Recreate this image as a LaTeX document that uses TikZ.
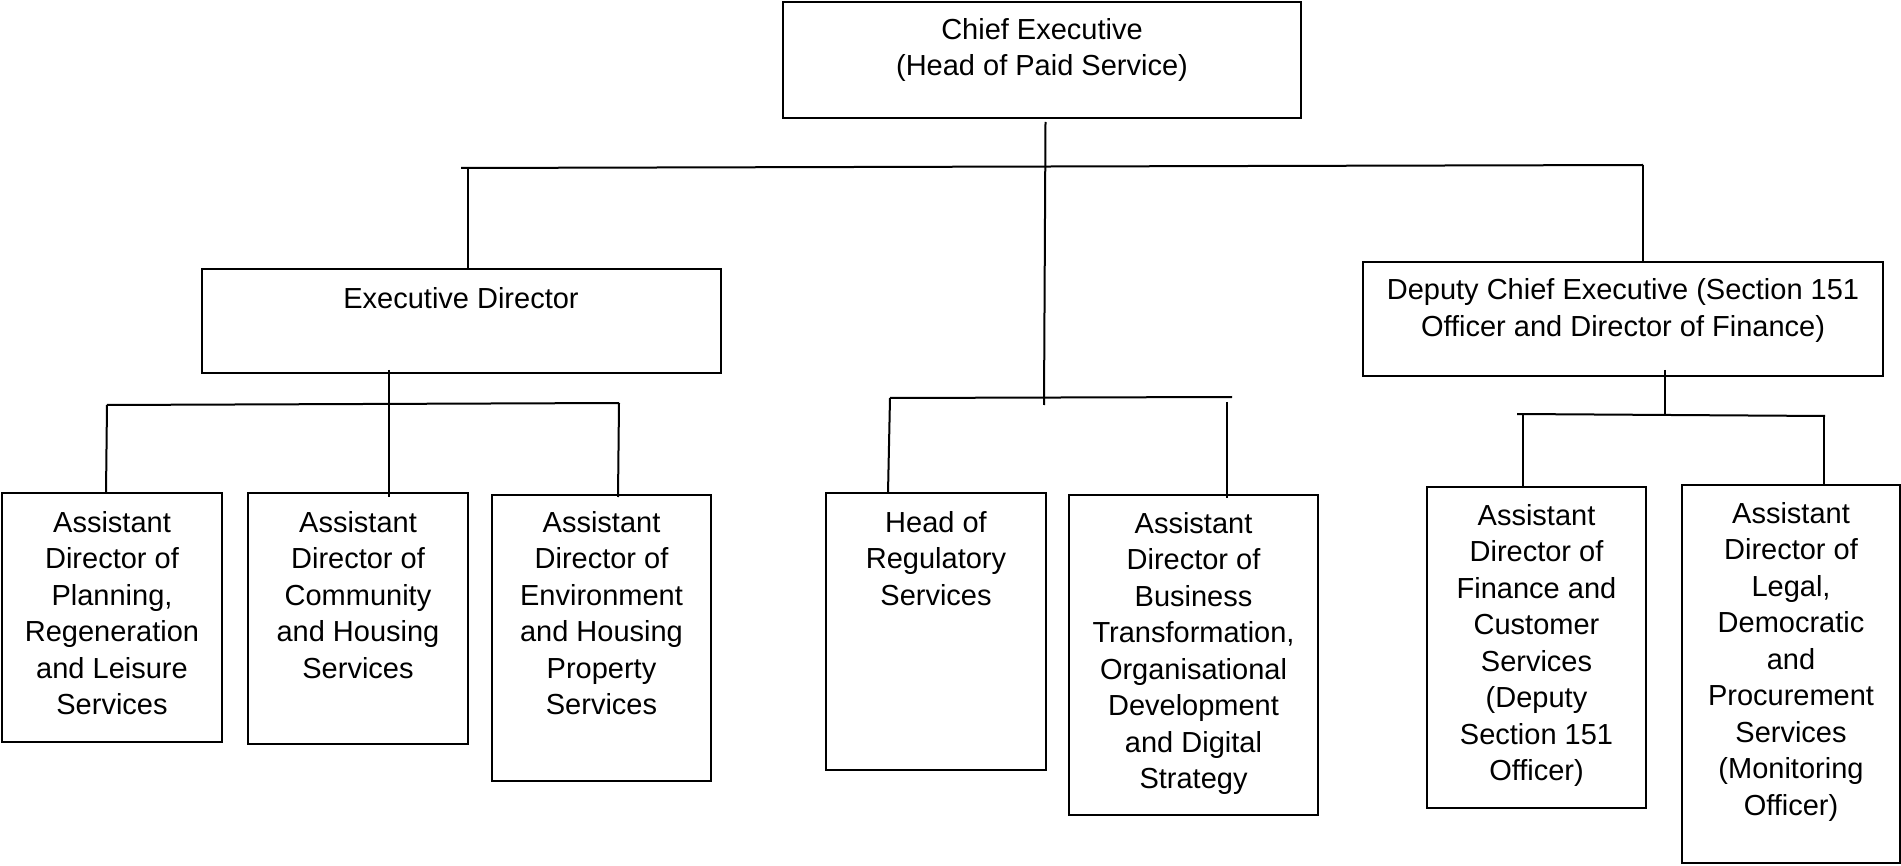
\documentclass[tikz,border=0pt]{standalone}
\usepackage{fontspec}
\setmainfont{Liberation Sans}
\usetikzlibrary{calc}
\newcommand\boxfont{\fontsize{29}{36.5}\selectfont}
\newcommand\fl{\rule{0pt}{26pt}}
\tikzset{
  box/.style={draw, line width=2pt, inner sep=0pt, outer sep=0pt},
  lbl/.style={anchor=north, align=center, inner sep=0pt, font=\boxfont},
  link/.style={line width=2pt},
}
\begin{document}
\begin{tikzpicture}[x=1pt, y=-1pt]
\useasboundingbox[fill=white] (0,0) rectangle (1901,866);

% boxes
\node[box, minimum width=518pt, minimum height=116pt] (ce)  at (1042,60) {};
\node[box, minimum width=519pt, minimum height=104pt] (ed)  at (461.5,321) {};
\node[box, minimum width=520pt, minimum height=114pt] (dce) at (1623,319) {};
\node[box, minimum width=220pt, minimum height=249pt] (a1)  at (112,617.5) {};
\node[box, minimum width=220pt, minimum height=251pt] (a2)  at (358,618.5) {};
\node[box, minimum width=219pt, minimum height=286pt] (a3)  at (601.5,638) {};
\node[box, minimum width=220pt, minimum height=277pt] (hr)  at (936,631.5) {};
\node[box, minimum width=249pt, minimum height=320pt] (bt)  at (1193.5,655) {};
\node[box, minimum width=219pt, minimum height=321pt] (f)   at (1536.5,647.5) {};
\node[box, minimum width=218pt, minimum height=378pt] (l)   at (1791,674) {};

% texts
\node[lbl] (ce-t)  at (1042,13) {\fl Chief Executive\\(Head of Paid Service)};
\node[lbl] (ed-t)  at (461,282) {\fl Executive Director};
\node[lbl] (dce-t) at (1623,273.5) {\fl Deputy Chief Executive (Section 151\\Officer and Director of Finance)};
\node[lbl] (a1-t)  at (112,506) {\fl Assistant\\Director of\\Planning,\\Regeneration\\and Leisure\\Services};
\node[lbl] (a2-t)  at (358,506) {\fl Assistant\\Director of\\Community\\and Housing\\Services};
\node[lbl] (a3-t)  at (601.5,506) {\fl Assistant\\Director of\\Environment\\and Housing\\Property\\Services};
\node[lbl] (hr-t)  at (936,506) {\fl Head of\\Regulatory\\Services};
\node[lbl] (bt-t)  at (1193.5,507) {\fl Assistant\\Director of\\Business\\Transformation,\\Organisational\\Development\\and Digital\\Strategy};
\node[lbl] (f-t)   at (1536.5,499) {\fl Assistant\\Director of\\Finance and\\Customer\\Services\\(Deputy\\Section 151\\Officer)};
\node[lbl] (l-t)   at (1791,497) {\fl Assistant\\Director of\\Legal,\\Democratic\\and\\Procurement\\Services\\(Monitoring\\Officer)};

% junction coordinates
\coordinate (tl) at (461,168);
\coordinate (tr) at (1643,165);
\coordinate (edj) at (468,168);
\coordinate (ctr) at (1044,405);
\coordinate (lb1) at (107,405);
\coordinate (lb2) at (619,403);
\coordinate (mb1) at (890,398);
\coordinate (mb2) at (1232,397);
\coordinate (mbd) at (1227,402);
\coordinate (rb1) at (1517,414);
\coordinate (rb2) at (1825,416);
\coordinate (rbj) at (1665,415);
\coordinate (rbf) at (1523,414);
\coordinate (rbl) at (1824,415);

% connectors
\draw[link] ([xshift=3.5pt,yshift=-4pt]ce.south) -- (ctr);
\draw[link] (tl) -- (tr);
\draw[link] (edj) -- ([xshift=6.5pt]ed.north);
\draw[link] (tr) -- ([xshift=20pt]dce.north);

\draw[link] ([xshift=-72.5pt,yshift=3pt]ed.south) -- ([xshift=31pt,yshift=-4pt]a2.north);
\draw[link] (lb1) -- (lb2);
\draw[link] (lb1) -- ([xshift=-6pt]a1.north);
\draw[link] (lb2) -- ([xshift=16.5pt,yshift=-2pt]a3.north);

\draw[link] (mb1) -- (mb2);
\draw[link] (mb1) -- ([xshift=-48pt]hr.north);
\draw[link] (mbd) -- ([xshift=33.5pt,yshift=-3pt]bt.north);

\draw[link] ([xshift=42pt,yshift=6pt]dce.south) -- (rbj);
\draw[link] (rb1) -- (rb2);
\draw[link] (rbf) -- ([xshift=-13.5pt]f.north);
\draw[link] (rbl) -- ([xshift=33pt]l.north);
\end{tikzpicture}
\end{document}
